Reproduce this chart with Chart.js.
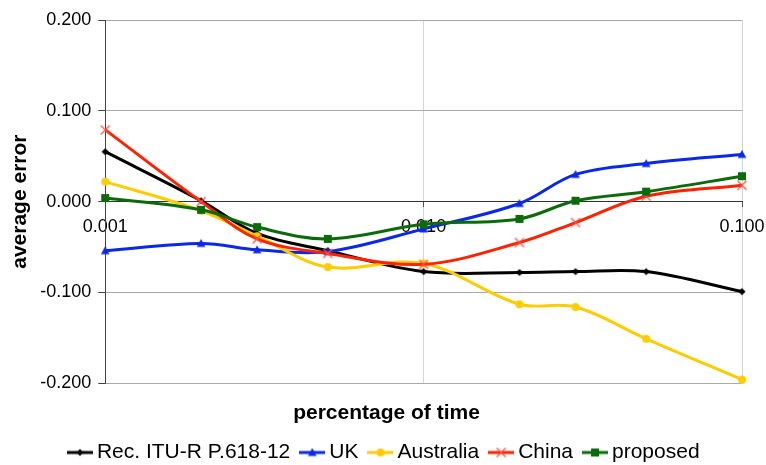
<!DOCTYPE html>
<html><head><meta charset="utf-8">
<script src="https://cdn.jsdelivr.net/npm/chart.js@4/dist/chart.umd.min.js"></script>
<style>html,body{margin:0;padding:0;background:#fff;overflow:hidden;}</style>
</head><body>
<canvas id="c" width="766" height="465"></canvas>
<script>
// ---- data ----
const percentages = [0.001, 0.002, 0.003, 0.005, 0.01, 0.02, 0.03, 0.05, 0.1];
const xTickValues = [0.001, 0.01, 0.1];
const yTickValues = [-0.2, -0.1, 0, 0.1, 0.2];
const seriesNames = ['Rec. ITU-R P.618-12', 'UK', 'Australia', 'China', 'proposed'];
const itu       = [0.055, 0.001, -0.035, -0.054, -0.077, -0.078, -0.077, -0.077, -0.099];
const uk        = [-0.054, -0.046, -0.053, -0.055, -0.030, -0.002, 0.030, 0.042, 0.052];
const australia = [0.022, -0.010, -0.038, -0.072, -0.068, -0.113, -0.116, -0.151, -0.196];
const china     = [0.079, 0.000, -0.041, -0.057, -0.069, -0.045, -0.023, 0.006, 0.018];
const proposed  = [0.004, -0.009, -0.028, -0.041, -0.025, -0.019, 0.001, 0.011, 0.028];

const FONT = 'Arial, "Liberation Sans", Helvetica, sans-serif';
const colors = ['#000000', '#0a28e8', '#ffcc00', '#ff2200', '#0b6b0b'];
const markers = ['diamond', 'triangle', 'circle', 'star', 'square'];

function drawMarker(g, style, cx, cy, color) {
  g.fillStyle = color; g.strokeStyle = color;
  g.beginPath();
  if (style === 'diamond') { g.moveTo(cx, cy - 3.6); g.lineTo(cx + 3.6, cy); g.lineTo(cx, cy + 3.6); g.lineTo(cx - 3.6, cy); g.closePath(); g.fill(); }
  else if (style === 'triangle') { g.moveTo(cx, cy - 4.5); g.lineTo(cx + 4.3, cy + 3.5); g.lineTo(cx - 4.3, cy + 3.5); g.closePath(); g.fill(); }
  else if (style === 'circle') { g.arc(cx, cy, 4, 0, Math.PI * 2); g.fill(); }
  else if (style === 'star') { g.strokeStyle = '#ff5040'; g.lineWidth = 1.2; g.moveTo(cx - 4.5, cy - 4.5); g.lineTo(cx + 4.5, cy + 4.5); g.moveTo(cx + 4.5, cy - 4.5); g.lineTo(cx - 4.5, cy + 4.5); g.stroke(); }
  else if (style === 'square') { g.fillRect(cx - 4, cy - 4, 8, 8); }
}
function markerImage(style, color) {
  const c = document.createElement('canvas'); c.width = 14; c.height = 14;
  drawMarker(c.getContext('2d'), style, 7, 7, color);
  return c;
}
function legendIcon(style, color) {
  const c = document.createElement('canvas'); c.width = 26; c.height = 14;
  const g = c.getContext('2d');
  g.strokeStyle = color; g.lineWidth = 3;
  g.beginPath(); g.moveTo(0, 7); g.lineTo(26, 7); g.stroke();
  drawMarker(g, style, 13, 7, color);
  return c;
}

const seriesValues = [itu, uk, australia, china, proposed];
const datasets = seriesNames.map((name, i) => ({
  label: name,
  data: percentages.map((x, j) => ({ x: x, y: seriesValues[i][j] })),
  borderColor: colors[i],
  backgroundColor: colors[i],
  borderWidth: 3,
  pointStyle: markerImage(markers[i], colors[i]),
  pointRadius: 5,
  tension: 0.35,
  clip: false,
  order: seriesNames.length - i,
  legendIcon: legendIcon(markers[i], colors[i])
}));

const whiteBg = {
  id: 'whiteBg',
  beforeDraw(chart) {
    const g = chart.ctx; g.save(); g.fillStyle = '#fff';
    g.fillRect(0, 0, chart.width, chart.height); g.restore();
  }
};

new Chart(document.getElementById('c'), {
  type: 'line',
  data: { datasets: datasets },
  plugins: [whiteBg],
  options: {
    responsive: false,
    animation: false,
    devicePixelRatio: 1,
    layout: { padding: { left: 31, right: 24, top: 20, bottom: -8 } },
    plugins: {
      tooltip: { enabled: false },
      title: {
        display: true, position: 'bottom', weight: 500,
        text: 'percentage of time', color: '#000',
        font: { family: FONT, size: 21, weight: 'bold' },
        padding: { top: 17, bottom: 1 }
      },
      legend: {
        position: 'bottom',
        labels: {
          usePointStyle: true,
          pointStyleWidth: 13,
          padding: 15.5,
          color: '#000',
          font: { family: FONT, size: 21 },
          generateLabels(chart) {
            const items = Chart.defaults.plugins.legend.labels.generateLabels(chart);
            items.sort((a, b) => a.datasetIndex - b.datasetIndex);
            items.forEach(it => { it.pointStyle = chart.data.datasets[it.datasetIndex].legendIcon; });
            return items;
          }
        }
      }
    },
    scales: {
      x: {
        type: 'logarithmic', min: 0.001, max: 0.1,
        position: { y: 0 },
        afterBuildTicks(scale) { scale.ticks = xTickValues.map(v => ({ value: v })); },
        afterFit(scale) { scale.paddingLeft = 0; scale.paddingRight = 0; },
        ticks: {
          callback: v => Number(v).toFixed(3),
          color: '#000', font: { family: FONT, size: 18 },
          padding: 10, maxRotation: 0, autoSkip: false
        },
        grid: {
          color: ctx => (ctx.tick && Math.abs(ctx.tick.value - 0.001) < 1e-9) ? 'rgba(0,0,0,0)' : '#d4d4d4',
          tickColor: '#555', tickLength: 5
        },
        border: { color: '#333', width: 1 }
      },
      y: {
        min: -0.2, max: 0.2,
        afterBuildTicks(scale) { scale.ticks = yTickValues.map(v => ({ value: v })); },
        ticks: {
          callback: v => Number(v).toFixed(3),
          color: '#000', font: { family: FONT, size: 18 }, padding: 7
        },
        grid: {
          color: ctx => (ctx.tick && Math.abs(ctx.tick.value) < 1e-9) ? 'rgba(0,0,0,0)' : '#aaaaaa',
          tickColor: '#444', tickLength: 7
        },
        border: { color: '#444', width: 1 },
        title: {
          display: true, text: 'average error', color: '#000',
          font: { family: FONT, size: 21, weight: 'bold' },
          padding: { top: -23, bottom: 0 }
        }
      }
    }
  }
});
</script>
</body></html>
